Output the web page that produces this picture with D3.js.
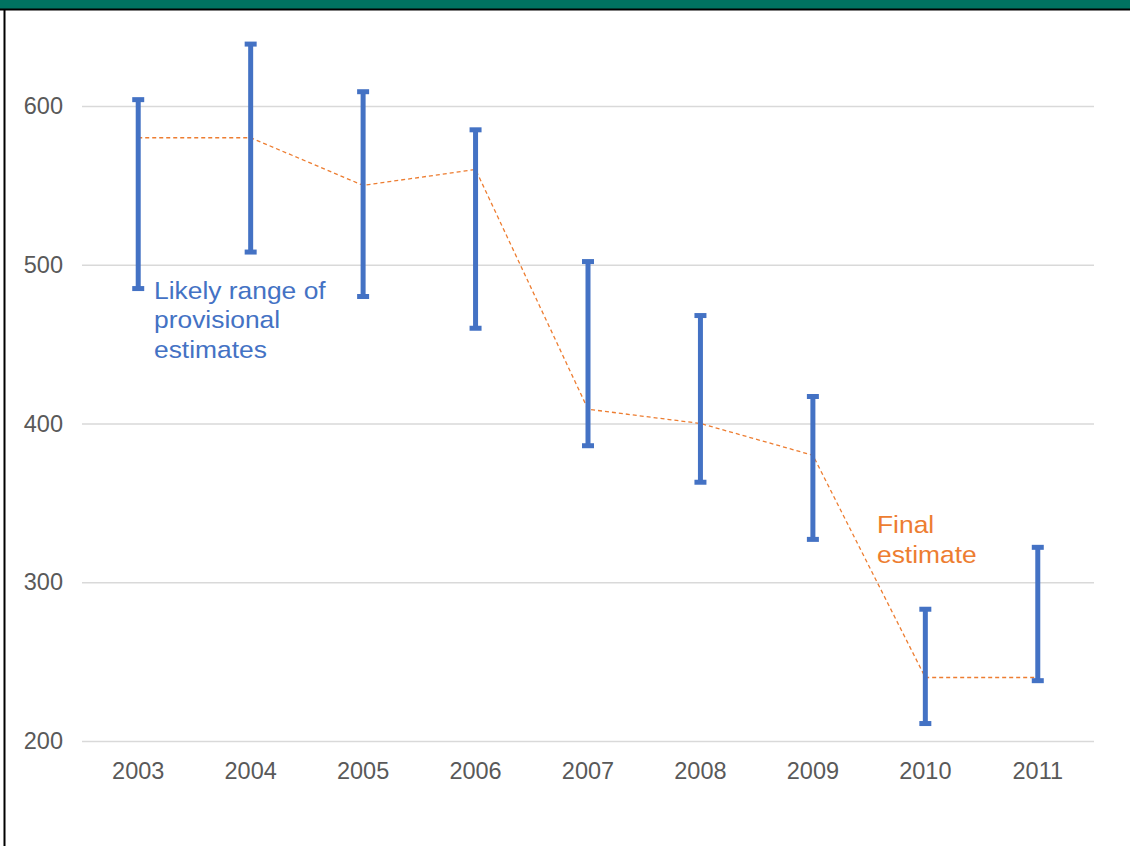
<!DOCTYPE html>
<html>
<head>
<meta charset="utf-8">
<script src="https://cdn.jsdelivr.net/npm/d3@7"></script>
<style>
  html, body { margin: 0; padding: 0; background: #fff; }
  svg { display: block; }
  text { font-family: "Liberation Sans", Arial, sans-serif; }
</style>
</head>
<body>
<svg id="chart" width="1130" height="846"></svg>
<script>
const years = ["2003","2004","2005","2006","2007","2008","2009","2010","2011"];
const rangeHigh = [604, 639, 609, 585, 502, 468, 417, 283, 322];
const rangeLow  = [485, 508, 480, 460, 386, 363, 327, 211, 238];
const finalEstimate = [580, 580, 550, 560, 409, 400, 380, 240, 240];
const yTicks = [200, 300, 400, 500, 600];

const svg = d3.select("#chart");
const W = 1130, H = 846;

// header band and frame
svg.append("rect").attr("x", 0).attr("y", 0).attr("width", W).attr("height", 9).attr("fill", "#007260");
svg.append("line").attr("x1", 0).attr("x2", W).attr("y1", 9.5).attr("y2", 9.5).attr("stroke", "#000").attr("stroke-width", 2);
svg.append("line").attr("x1", 4.5).attr("x2", 4.5).attr("y1", 9).attr("y2", H).attr("stroke", "#000").attr("stroke-width", 2);

const x = d3.scaleBand().domain(years).range([82, 1094]);
const y = d3.scaleLinear().domain([200, 600]).range([741, 106]);

// gridlines
const yAxis = d3.axisLeft(y).tickValues(yTicks).tickSize(-(1094 - 82)).tickPadding(19);
const gy = svg.append("g").attr("transform", "translate(82,0)").call(yAxis);
gy.select(".domain").remove();
gy.selectAll(".tick line").attr("stroke", "#d9d9d9").attr("stroke-width", 1.3);
gy.selectAll(".tick text").attr("fill", "#595959").style("font-size", "23.5px");

const xAxis = d3.axisBottom(x).tickSize(0).tickPadding(21);
const gx = svg.append("g").attr("transform", "translate(0,741)").call(xAxis);
gx.select(".domain").remove();
gx.selectAll(".tick text").attr("fill", "#595959").style("font-size", "23.5px");

const cx = d => x(d) + x.bandwidth() / 2;

// dashed final-estimate line
const line = d3.line().x((d, i) => cx(years[i])).y(d => y(d));
svg.append("path").datum(finalEstimate)
  .attr("d", line).attr("fill", "none")
  .attr("stroke", "#ED7D31").attr("stroke-width", 1.3)
  .attr("stroke-dasharray", "4,3");

// error bars
const blue = "#4472C4";
const bars = svg.append("g");
years.forEach((yr, i) => {
  const c = cx(yr);
  bars.append("line").attr("x1", c).attr("x2", c)
    .attr("y1", y(rangeHigh[i])).attr("y2", y(rangeLow[i]))
    .attr("stroke", blue).attr("stroke-width", 5);
  [rangeHigh[i], rangeLow[i]].forEach(v => {
    bars.append("line").attr("x1", c - 6).attr("x2", c + 6)
      .attr("y1", y(v)).attr("y2", y(v))
      .attr("stroke", blue).attr("stroke-width", 5);
  });
});

// annotations (slightly widened glyphs as in the reference)
const ann1 = svg.append("g").attr("transform", "translate(154,0) scale(1.1,1)")
  .append("text").attr("fill", blue).style("font-size", "24px");
["Likely range of", "provisional", "estimates"].forEach((t, i) => {
  ann1.append("tspan").attr("x", 0).attr("y", 299 + i * 29.5).text(t);
});
const ann2 = svg.append("g").attr("transform", "translate(877,0) scale(1.1,1)")
  .append("text").attr("fill", "#ED7D31").style("font-size", "24px");
["Final", "estimate"].forEach((t, i) => {
  ann2.append("tspan").attr("x", 0).attr("y", 533 + i * 30).text(t);
});
</script>
</body>
</html>
